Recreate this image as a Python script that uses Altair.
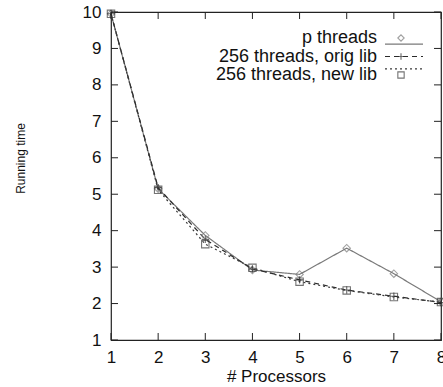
import altair as alt
import pandas as pd

procs = [1, 2, 3, 4, 5, 6, 7, 8]
series = ["p threads", "256 threads, orig lib", "256 threads, new lib"]
p_threads = [9.95, 5.15, 3.87, 2.92, 2.80, 3.52, 2.82, 2.05]
orig_lib = [9.95, 5.18, 3.76, 2.95, 2.65, 2.37, 2.20, 2.03]
new_lib = [9.95, 5.12, 3.63, 2.98, 2.60, 2.36, 2.18, 2.04]
x_ticks = [1, 2, 3, 4, 5, 6, 7, 8]
y_ticks = [1, 2, 3, 4, 5, 6, 7, 8, 9, 10]

W, H = 330, 328
FONT = "Liberation Sans"

rows = []
for name, vals in zip(series, [p_threads, orig_lib, new_lib]):
    for p, v in zip(procs, vals):
        rows.append({"procs": p, "time": v, "series": name})
df = pd.DataFrame(rows)
leg_df = pd.DataFrame({"series": series})
xt_df = pd.DataFrame({"v": x_ticks})
yt_df = pd.DataFrame({"v": y_ticks})

xs = alt.Scale(domain=[1, 8], nice=False, zero=False)
ys = alt.Scale(domain=[1, 10], nice=False, zero=False)
color_s = alt.Scale(domain=series, range=["#7a7a7a", "#2a2a2a", "#3a3a3a"])
dash_s = alt.Scale(domain=series, range=[[1, 0], [5, 4], [2, 3]])
shape_s = alt.Scale(domain=series, range=["diamond", "M-1,0L1,0M0,-1L0,1", "square"])
leg_y = alt.Scale(domain=series, range=[26, 63], padding=0)

x_enc = alt.X("procs:Q", scale=xs, axis=alt.Axis(
    values=x_ticks, title="# Processors", grid=False, ticks=False, domain=False,
    labelFontSize=17, labelFont=FONT, labelColor="#111", labelPadding=9,
    titleFont=FONT, titleFontSize=17, titleFontWeight="normal", titleColor="#111",
    titleX=165, titleY=36, titleBaseline="middle", titleAnchor="middle",
    labelFlush=False))
y_enc = alt.Y("time:Q", scale=ys, axis=alt.Axis(
    values=y_ticks, title="Running time", grid=False, ticks=False, domain=False,
    labelFontSize=17, labelFont=FONT, labelColor="#111", labelPadding=10,
    titleFont=FONT, titleFontSize=12, titleFontWeight="normal", titleColor="#111",
    titleX=-91, titleY=146, titleBaseline="middle", titleAngle=-90,
    labelFlush=False))

lines = alt.Chart(df).mark_line(strokeWidth=1.2).encode(
    x=x_enc, y=y_enc,
    color=alt.Color("series:N", scale=color_s, legend=None),
    strokeDash=alt.StrokeDash("series:N", scale=dash_s, legend=None),
    detail="series:N",
)
points = alt.Chart(df).mark_point(filled=False, size=55, strokeWidth=1.1).encode(
    x=alt.X("procs:Q", scale=xs, axis=None),
    y=alt.Y("time:Q", scale=ys, axis=None),
    color=alt.Color("series:N", scale=color_s, legend=None),
    shape=alt.Shape("series:N", scale=shape_s, legend=None),
)

tick_col = "#222"
xt_bot = alt.Chart(xt_df).mark_rule(color=tick_col).encode(
    x=alt.X("v:Q", scale=xs, axis=None), y=alt.value(H), y2=alt.value(H - 7))
xt_top = alt.Chart(xt_df).mark_rule(color=tick_col).encode(
    x=alt.X("v:Q", scale=xs, axis=None), y=alt.value(0), y2=alt.value(7))
yt_left = alt.Chart(yt_df).mark_rule(color=tick_col).encode(
    y=alt.Y("v:Q", scale=ys, axis=None), x=alt.value(0), x2=alt.value(7))
yt_right = alt.Chart(yt_df).mark_rule(color=tick_col).encode(
    y=alt.Y("v:Q", scale=ys, axis=None), x=alt.value(W - 7), x2=alt.value(W))

leg_text = alt.Chart(leg_df).mark_text(
    align="right", baseline="middle", font=FONT, fontSize=18, color="#111").encode(
    y=alt.Y("series:N", scale=leg_y, axis=None, sort=series),
    x=alt.value(266), text="series:N")
leg_line = alt.Chart(leg_df).mark_rule(strokeWidth=1.2).encode(
    y=alt.Y("series:N", scale=leg_y, axis=None, sort=series),
    x=alt.value(274), x2=alt.value(312),
    color=alt.Color("series:N", scale=color_s, legend=None),
    strokeDash=alt.StrokeDash("series:N", scale=dash_s, legend=None))
leg_pt = alt.Chart(leg_df).mark_point(filled=False, size=40, strokeWidth=1.1).encode(
    y=alt.Y("series:N", scale=leg_y, axis=None, sort=series),
    x=alt.value(290),
    color=alt.Color("series:N", scale=color_s, legend=None),
    shape=alt.Shape("series:N", scale=shape_s, legend=None))

chart = alt.layer(
    lines, points, xt_bot, xt_top, yt_left, yt_right, leg_text, leg_line, leg_pt
).resolve_scale(y="independent").resolve_axis(x="independent").properties(
    width=W, height=H,
    autosize=alt.AutoSizeParams(type="none"),
    padding={"left": 111, "top": 12, "right": 2, "bottom": 47},
    background="white",
).configure_view(stroke="#222", strokeWidth=1.2)

chart.save("out.html", embed_options={"renderer": "svg", "actions": False})
